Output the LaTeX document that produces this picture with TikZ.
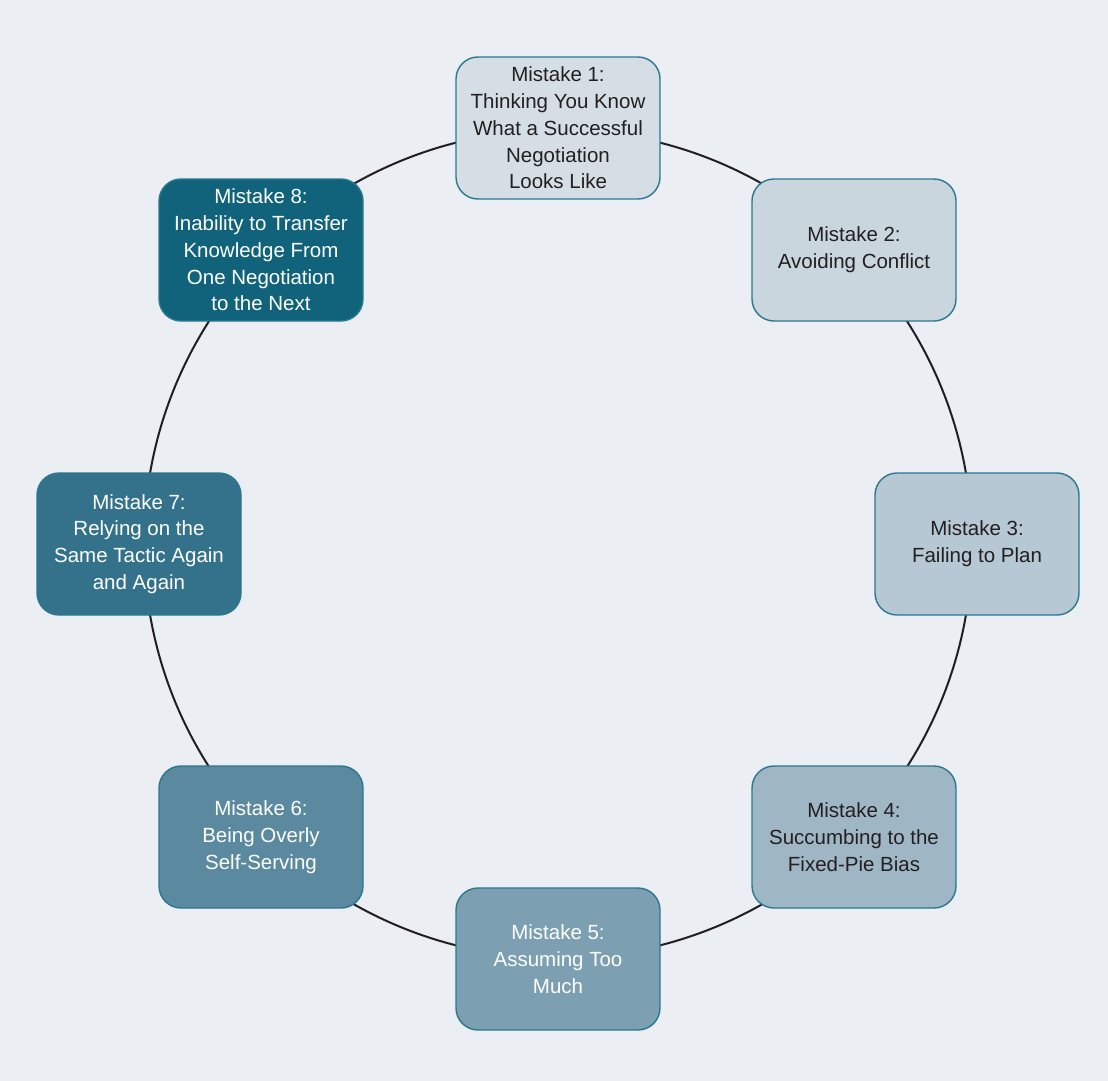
\documentclass[tikz,border=0pt]{standalone}
\usepackage{fontspec}
\setmainfont{Liberation Sans}
\definecolor{bg}{HTML}{EBEEF2}
\definecolor{ringc}{HTML}{231F20}
\definecolor{edgec}{HTML}{2A7890}
\definecolor{txtd}{HTML}{231F20}
\definecolor{fa}{HTML}{D5DEE5}
\definecolor{fb}{HTML}{C9D6DE}
\definecolor{fc}{HTML}{B5C8D4}
\definecolor{fd}{HTML}{9FB7C5}
\definecolor{fe}{HTML}{7CA0B2}
\definecolor{ff}{HTML}{5A89A0}
\definecolor{fg}{HTML}{34728B}
\definecolor{fh}{HTML}{11637C}
\tikzset{
  mbox/.style={draw=edgec, line width=1.4pt, rounded corners=22pt,
    minimum width=204pt, minimum height=142pt, align=center,
    font=\fontsize{20.5}{26.7}\selectfont, inner sep=0pt},
  lighttxt/.style={text=txtd},
  darktxt/.style={text=white},
  ring/.style={draw=ringc, line width=2pt}
}
\begin{document}
\begin{tikzpicture}[x=1pt,y=-1pt]
\fill[bg] (0,0) rectangle (1108,1081);
\useasboundingbox (0,0) rectangle (1108,1081);
\coordinate (c) at (558,544);
\draw[ring] (c) circle[radius=414pt];
\node[mbox, fill=fa, lighttxt] (m1) at (558,128) {Mistake 1:\\Thinking You Know\\What a Successful\\Negotiation\\Looks Like};
\node[mbox, fill=fb, lighttxt] (m2) at (854,250) {Mistake 2:\\Avoiding Conflict};
\node[mbox, fill=fc, lighttxt] (m3) at (977,544) {Mistake 3:\\Failing to Plan};
\node[mbox, fill=fd, lighttxt] (m4) at (854,837) {Mistake 4:\\Succumbing to the\\Fixed-Pie Bias};
\node[mbox, fill=fe, darktxt] (m5) at (558,959) {Mistake 5:\\Assuming Too\\Much};
\node[mbox, fill=ff, darktxt] (m6) at (261,837) {Mistake 6:\\Being Overly\\Self-Serving};
\node[mbox, fill=fg, darktxt] (m7) at (139,544) {Mistake 7:\\Relying on the\\Same Tactic Again\\and Again};
\node[mbox, fill=fh, darktxt] (m8) at (261,250) {Mistake 8:\\Inability to Transfer\\Knowledge From\\One Negotiation\\to the Next};
\end{tikzpicture}
\end{document}
